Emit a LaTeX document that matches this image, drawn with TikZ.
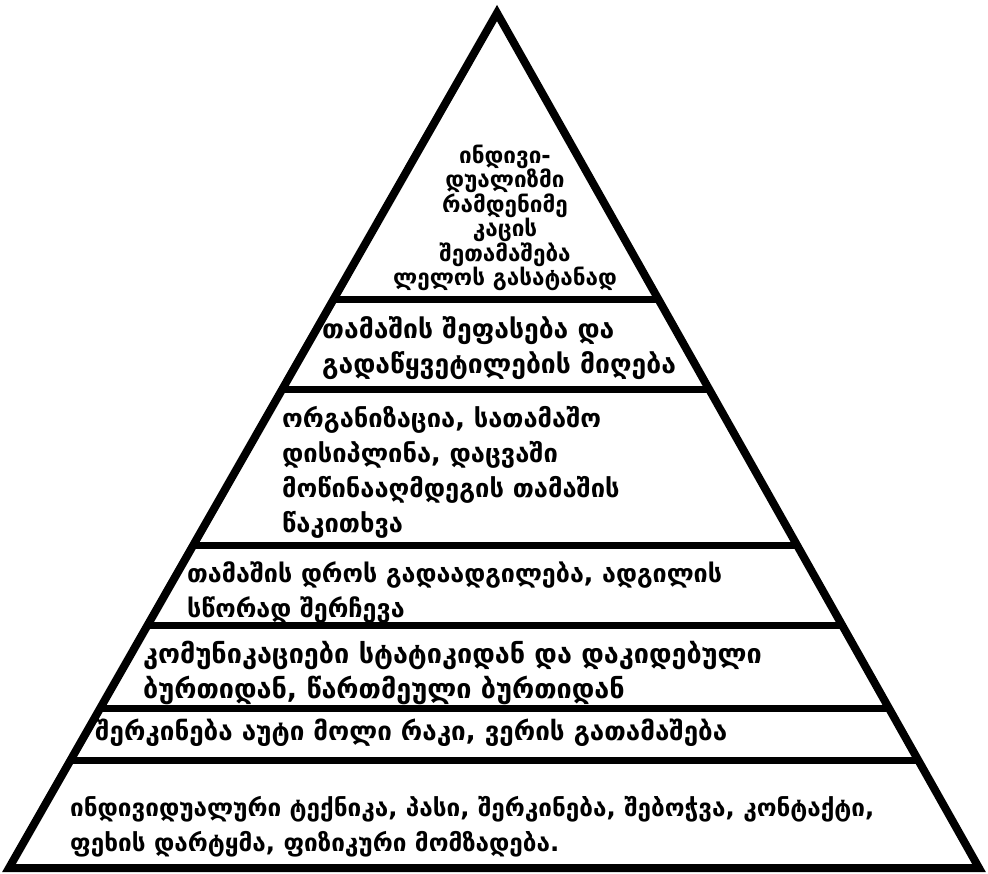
\documentclass[tikz,border=0pt]{standalone}
\usepackage{fontspec}
\newfontfamily\geo{DejaVu Sans}
\usetikzlibrary{calc}
\begin{document}
\begin{tikzpicture}[x=1pt,y=-1pt,
  edge/.style={line width=8pt,line join=miter,black},
  sep/.style={line width=7pt,black},
  bandtext/.style={anchor=west,align=left,inner sep=0pt,font=\geo\bfseries\fontsize{#1}{35}\selectfont},
  bandtext/.default=25.5,
  toptext/.style={anchor=center,align=center,inner sep=0pt,font=\geo\bfseries\fontsize{22.5}{24.5}\selectfont}]
\useasboundingbox (0,0) rectangle (988,874);
\coordinate (A) at (497,13);
\coordinate (L) at (9,868);
\coordinate (R) at (979,868);
\foreach \y/\n in {300/1,390/2,546/3,626/4,709/5,761/6}{
  \coordinate (l\n) at ($(A)!{(\y-13)/855}!(L)$);
  \coordinate (r\n) at ($(A)!{(\y-13)/855}!(R)$);
  \draw[sep] (l\n) -- (r\n);
}
\draw[edge] (A) -- (L) -- (R) -- cycle;
\node[toptext] (t0) at (505,218) {ინდივი-\\დუალიზმი\\რამდენიმე\\კაცის\\შეთამაშება\\ლელოს გასატანად};
\node[bandtext=26.5] (t1) at (322,348.5) {თამაშის შეფასება და\\გადაწყვეტილების მიღება};
\node[bandtext=25.5] (t2) at (282,472) {ორგანიზაცია, სათამაშო\\დისიპლინა, დაცვაში\\მოწინააღმდეგის თამაშის\\წაკითხვა};
\node[bandtext=25.1] (t3) at (187,592.5) {თამაშის დროს გადაადგილება, ადგილის\\სწორად შერჩევა};
\node[bandtext=27] (t4) at (143,672.5) {კომუნიკაციები სტატიკიდან და დაკიდებული\\ბურთიდან, წართმეული ბურთიდან};
\node[bandtext=26] (t5) at (95,733) {შერკინება აუტი მოლი რაკი, ვერის გათამაშება};
\node[bandtext=24.3] (t6) at (70,826.5) {ინდივიდუალური ტექნიკა, პასი, შერკინება, შებოჭვა, კონტაქტი,\\ფეხის დარტყმა, ფიზიკური მომზადება.};
\end{tikzpicture}
\end{document}
